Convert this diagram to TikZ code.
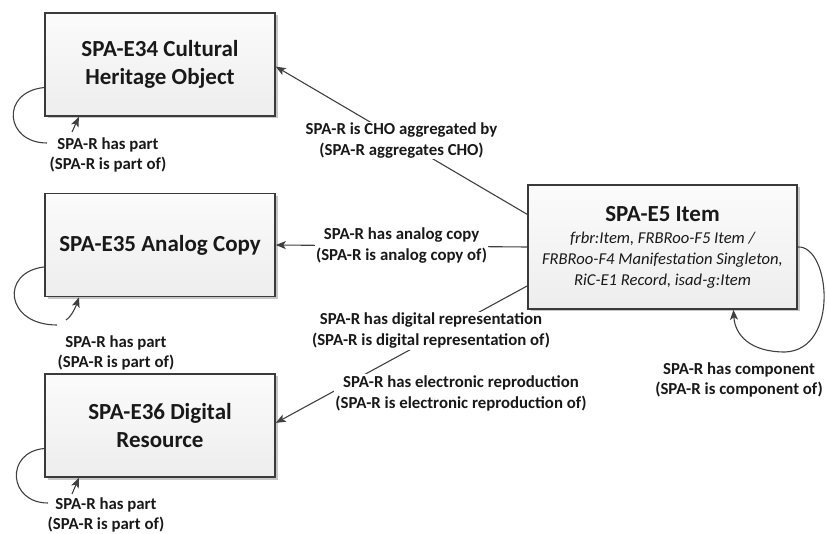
\documentclass[tikz,border=0pt]{standalone}
\usepackage{fontspec}
\setmainfont{Carlito}
\usetikzlibrary{arrows.meta,shadows,calc}
\definecolor{ln}{HTML}{404040}
\definecolor{bd}{HTML}{3A3A3A}
\begin{document}
\begin{tikzpicture}[x=1pt,y=-1pt,
  box/.style={draw=bd, line width=1.6pt, top color=gray!3, bottom color=gray!14,
    minimum width=230pt, minimum height=103pt, align=center, inner sep=0pt,
    font=\fontsize{23}{28}\selectfont\bfseries, text=black!90,
    drop shadow={shadow xshift=2.5pt, shadow yshift=-2.5pt, fill=gray!45, opacity=1}},
  conn/.style={draw=ln, line width=1.1pt, -{Stealth[length=10pt,width=8pt,inset=2.5pt]}},
  plain/.style={draw=ln, line width=1.1pt},
  lbl/.style={fill=white, inner sep=1pt, align=center,
    font=\fontsize{16.8}{21}\selectfont\bfseries, text=black!90},
  lbll/.style={inner sep=1pt, align=center,
    font=\fontsize{16.8}{20}\selectfont\bfseries, text=black!90},
]
\useasboundingbox (0,0) rectangle (827,534);

% boxes
\node[box] (e34) at (160,64.5) {SPA-E34 Cultural\\Heritage Object};
\node[box] (e35) at (160,245) {SPA-E35 Analog Copy};
\node[box] (e36) at (160,425.5) {SPA-E36 Digital\\Resource};
\node[box, minimum width=269pt, minimum height=124pt,
  font=\fontsize{16.6}{21}\selectfont\itshape] (e5) at (662.5,247)
  {{\fontsize{23}{26}\selectfont\bfseries\upshape SPA-E5 Item}\\[1pt]
   frbr:Item, FRBRoo-F5 Item /\\
   FRBRoo-F4 Manifestation Singleton,\\
   RiC-E1 Record, isad-g:Item};

% connectors between boxes
\draw[conn] ($(e5.north west)!0.24!(e5.south west)$) -- ($(e34.north east)!0.52!(e34.south east)$)
  node[lbl, midway] (lcho) {SPA-R is CHO aggregated by\\(SPA-R aggregates CHO)};
\draw[conn] (e5.west) -- (e35.east)
  node[lbl, midway] (lana) {SPA-R has analog copy\\(SPA-R is analog copy of)};
\draw[conn] ($(e5.north west)!0.81!(e5.south west)$) -- ($(e36.north east)!0.475!(e36.south east)$);
\node[lbl] (ldig) at (431,331) {SPA-R has digital representation\\(SPA-R is digital representation of)};
\node[lbl] (lele) at (461,393) {SPA-R has electronic reproduction\\(SPA-R is electronic reproduction of)};

% self loops
\coordinate (a34) at (47,143);
\coordinate (t34) at (72,132);
\draw[plain] ($(e34.north west)!0.72!(e34.south west)$) .. controls (0,92) and (5,143) .. (a34);
\draw[conn] (t34) -- ($(e34.south west)!0.15!(e34.south east)$);
\node[lbll] (l34) at (108,155) {SPA-R has part\\(SPA-R is part of)};

\coordinate (a35) at (57,325);
\coordinate (t35) at (66,320);
\draw[plain] ($(e35.north west)!0.71!(e35.south west)$) .. controls (0,272) and (5,325) .. (a35);
\draw[conn] (t35) .. controls (72,316) and (76,306) .. ($(e35.south west)!0.15!(e35.south east)$);
\node[lbll] (l35) at (116,353) {SPA-R has part\\(SPA-R is part of)};

\coordinate (a36) at (48,503);
\coordinate (t36) at (72,494);
\draw[plain] ($(e36.north west)!0.72!(e36.south west)$) .. controls (5,452) and (8,503) .. (a36);
\draw[conn] (t36) -- ($(e36.south west)!0.15!(e36.south east)$);
\node[lbll] (l36) at (106,514.5) {SPA-R has part\\(SPA-R is part of)};

\draw[conn] (e5.east) .. controls (830,245) and (840,350) .. (785,352)
  .. controls (750,352) and (735,335) .. ($(e5.south west)!0.762!(e5.south east)$);
\node[lbll] (l5) at (739,380) {SPA-R has component\\(SPA-R is component of)};
\end{tikzpicture}
\end{document}
